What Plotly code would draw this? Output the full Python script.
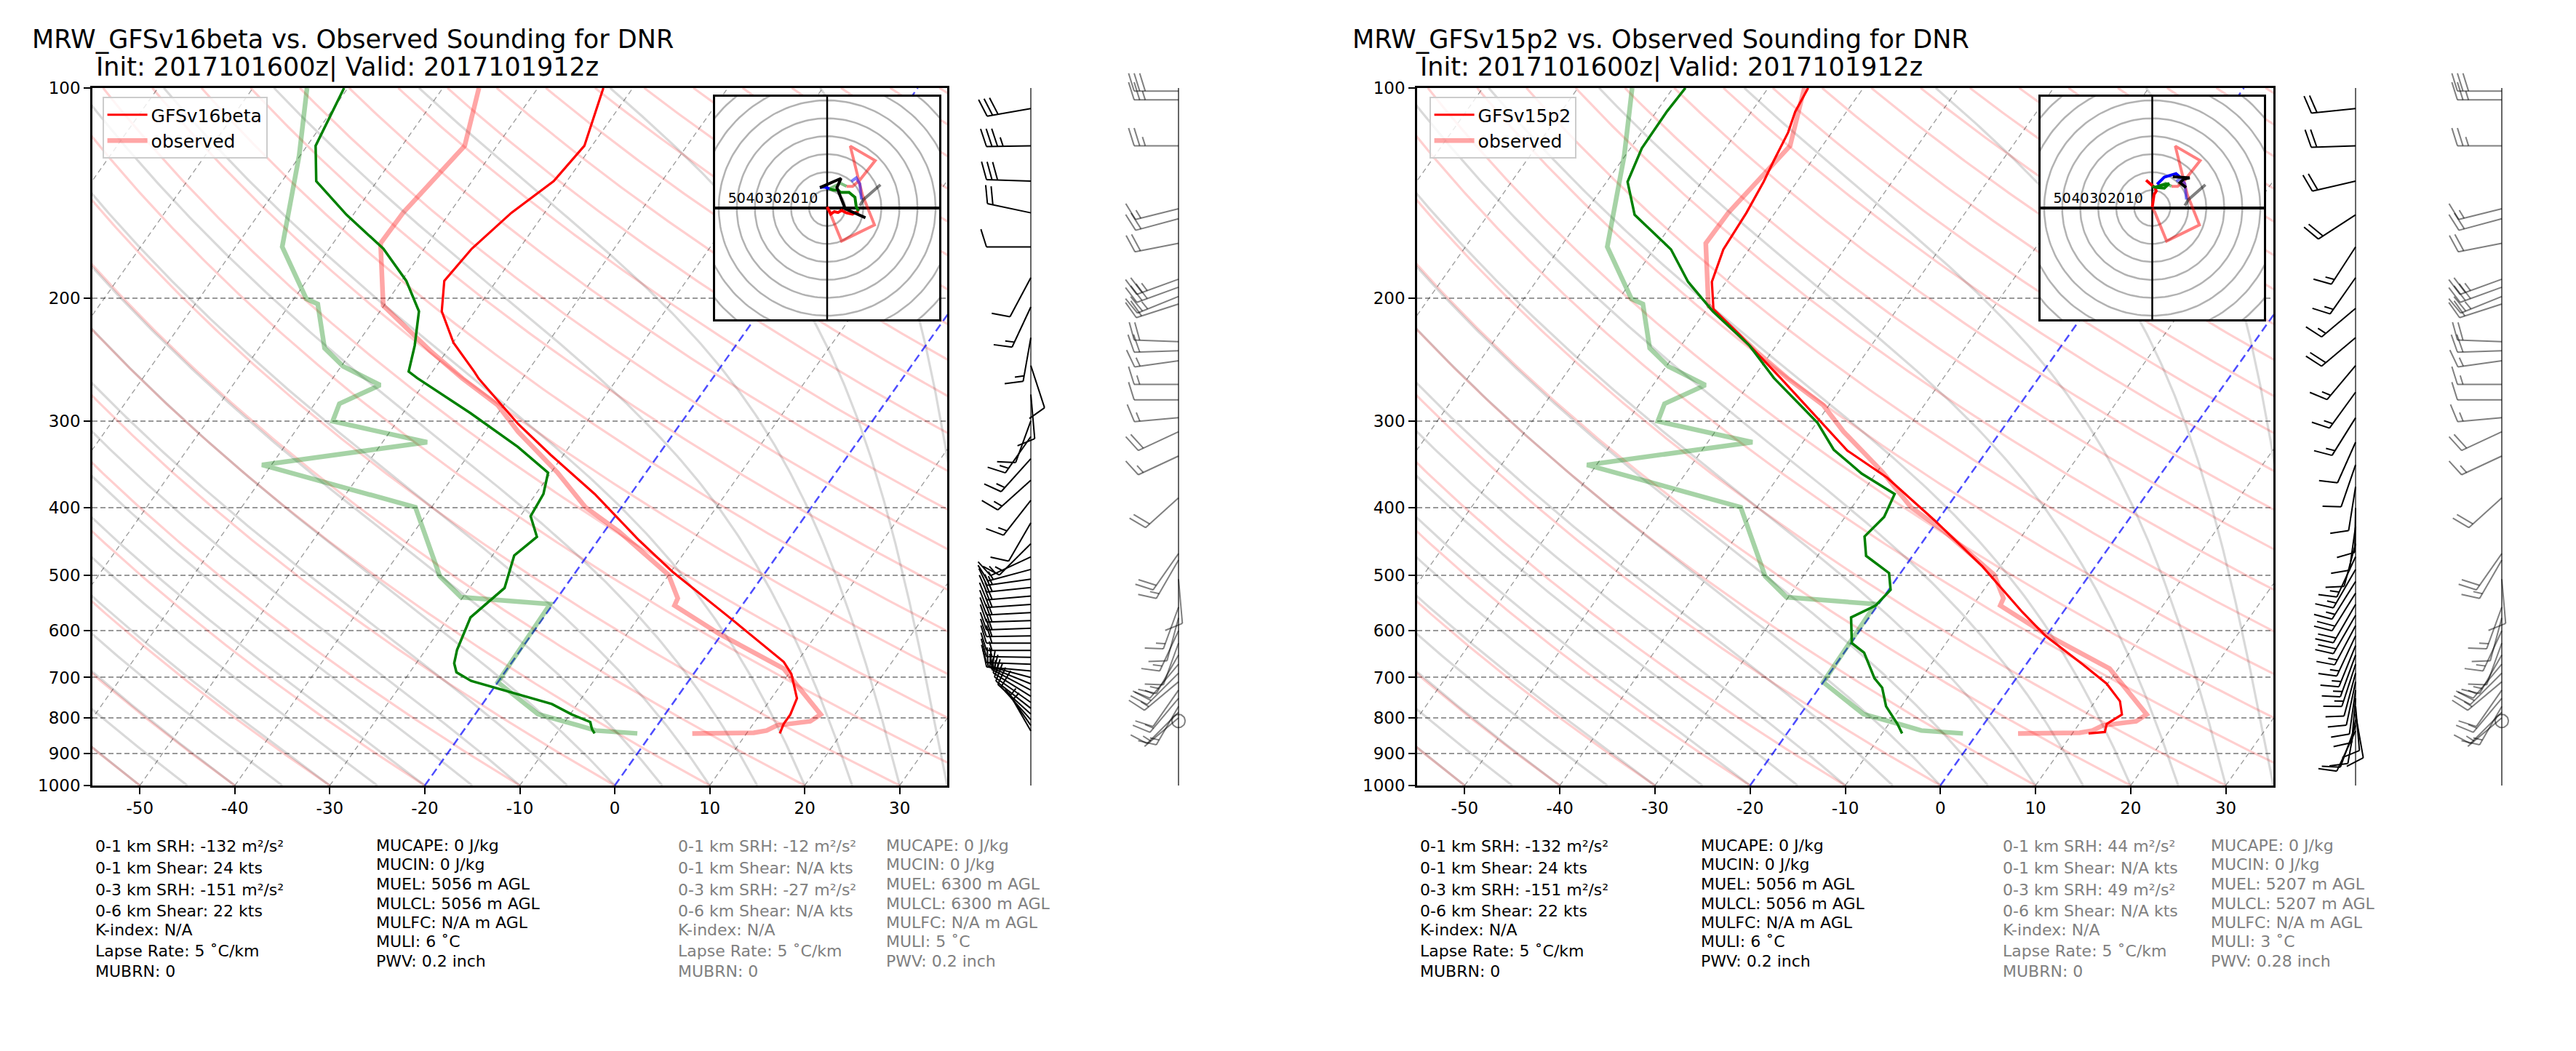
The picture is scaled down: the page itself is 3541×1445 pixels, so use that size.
import numpy as np
import plotly.graph_objects as go

W, H = 3541, 1445
FONT = "DejaVu Sans"

# ============================ values ============================
MODELS = ["GFSv16beta", "GFSv15p2"]
STATION = "DNR"
INIT_VALID = "Init: 2017101600z| Valid: 2017101912z"

X_TICKS = [-50, -40, -30, -20, -10, 0, 10, 20, 30]
P_TICKS = [100, 200, 300, 400, 500, 600, 700, 800, 900, 1000]

# observed sounding (same in both panels)
OBS_T_P = [842.5, 840, 834, 820, 809, 791, 680, 606, 552, 539, 499, 432, 399, 356, 311, 285,
           261, 238, 205, 167, 151, 134, 121, 100]
OBS_T = [4.3, 10.7, 11.9, 12.6, 15.8, 16.4, 9.1, -0.3, -7.1, -7.3, -10.0, -18.5, -23.8, -29.3,
         -36.5, -40.6, -46.3, -51.8, -60.1, -65.0, -64.9, -64.0, -63.4, -66.2]
OBS_TD_P = [842, 834, 820, 790, 711, 549.5, 537, 501, 399, 347, 322, 300.5, 283.6, 266.6, 250.6,
            236, 204, 200.5, 168.9, 125, 100]
OBS_TD = [-1.5, -6.1, -8.3, -13.4, -20.0, -20.3, -30.2, -34.0, -41.7, -61.0, -45.3, -56.8, -57.4,
          -54.5, -59.8, -63.1, -67.1, -68.7, -75.1, -80.1, -84.3]

# GFSv16beta sounding
V16_T_P = [842, 816, 791, 750, 692, 665, 580, 494, 445, 382, 336, 303, 261, 255, 232, 209, 189,
           170, 151, 136, 121, 108, 100]
V16_T = [13.5, 13.2, 13.2, 12.7, 10.3, 8.6, 0.2, -9.8, -15.7, -23.8, -31.3, -37.1, -44.6, -45.6,
         -49.9, -53.5, -55.5, -55.0, -53.5, -51.4, -50.8, -52.2, -53.1]
V16_TD_P = [842, 830, 811, 791, 764, 736, 708, 688, 668, 639, 574, 521, 468, 440, 411, 382, 356,
            327, 292.5, 260.6, 255, 234, 209, 189, 170, 152, 136, 121, 100]
V16_TD = [-6.0, -6.6, -7.3, -9.8, -12.7, -17.8, -22.9, -25.1, -26.0, -26.7, -27.7, -26.3, -27.7,
          -26.7, -28.9, -29.2, -30.3, -35.4, -42.9, -51.1, -52.5, -53.8, -55.9, -59.5, -64.3,
          -70.7, -76.4, -79.1, -80.4]

# GFSv15p2 sounding
V15_T_P = [842, 838, 816, 791, 757, 714.5, 671, 611, 564, 485, 417, 362, 331, 300.5, 260.6, 226,
           207.5, 189.6, 170.4, 151, 136.3, 127.2, 115.8, 108.1, 100]
V15_T = [11.7, 13.3, 12.9, 13.8, 12.6, 9.9, 6.0, 0.0, -4.3, -11.9, -20.3, -28.5, -34.7, -39.7,
         -47.1, -54.6, -59.3, -61.5, -62.7, -63.0, -63.5, -64.0, -64.6, -65.4, -65.8]
V15_TD_P = [842, 816, 770, 724, 702, 645, 625, 574, 552, 524, 496, 468.5, 439.5, 412, 382, 357,
            330, 302, 260.6, 234, 209, 189.6, 170.4, 152, 136.3, 122, 108, 100]
V15_TD = [-7.9, -9.1, -11.6, -13.4, -14.9, -17.9, -19.9, -21.9, -20.2, -19.8, -21.2, -24.9, -26.5,
          -25.9, -26.5, -31.5, -36.2, -39.9, -47.8, -52.8, -59.2, -64.0, -68.2, -74.6, -77.8,
          -78.8, -78.9, -78.7]

# winds (pressure hPa, direction deg, speed kt)
V16_W_P = [107, 121, 136, 151, 169, 187, 206, 228, 250, 275, 300, 316, 340, 365, 390, 420, 450,
           470, 490, 506, 520, 535, 550, 565, 580, 595, 610, 625, 640, 655, 670, 685, 700, 715,
           730, 745, 760, 775, 790, 805, 820, 835]
V16_W_D = [260, 269, 272, 282, 270, 208, 205, 190, 162, 175, 200, 215, 222, 228, 218, 210, 225,
           245, 255, 262, 264, 265, 266, 267, 268, 268, 269, 270, 270, 271, 272, 275, 285, 292,
           298, 302, 305, 308, 312, 318, 325, 330]
V16_W_S = [30, 35, 30, 20, 10, 10, 15, 15, 10, 10, 10, 15, 15, 15, 15, 10, 15, 15, 15, 15, 20, 20,
           20, 20, 20, 20, 20, 20, 15, 15, 15, 15, 15, 15, 15, 10, 10, 10, 10, 10, 5, 5]

V15_W_P = [107, 121, 136, 152, 169, 187, 207, 228, 250, 273, 297, 322, 347, 373, 400, 425, 450,
           470, 490, 510, 530, 550, 570, 590, 610, 630, 650, 670, 690, 710, 730, 750, 770, 790,
           805, 820, 835]
V15_W_D = [264, 268, 257, 237, 213, 215, 230, 230, 220, 216, 212, 204, 199, 189, 181, 188, 195,
           205, 210, 212, 212, 210, 210, 208, 205, 202, 200, 198, 195, 192, 188, 185, 175, 170,
           190, 200, 205]
V15_W_S = [20, 20, 20, 20, 15, 15, 15, 20, 15, 15, 15, 10, 10, 10, 10, 10, 10, 15, 15, 15, 20, 20,
           20, 15, 15, 15, 15, 15, 10, 10, 10, 10, 10, 10, 10, 10, 10]

OBS_W_P = [101, 104, 121, 149, 154, 167, 188, 193, 199, 204, 231, 238, 246, 266, 280, 297, 311,
           337, 387, 465, 475, 506, 555, 575, 600, 625, 650, 670, 690, 710, 730, 750, 770, 785,
           800, 808]
OBS_W_D = [270, 270, 270, 256, 255, 259, 250, 250, 248, 252, 272, 268, 262, 270, 270, 265, 245,
           245, 228, 215, 210, 175, 200, 195, 205, 200, 210, 220, 225, 230, 215, 220, 210, 225,
           230, 0]
OBS_W_S = [30, 25, 25, 15, 20, 20, 25, 30, 25, 20, 20, 20, 15, 15, 10, 15, 20, 15, 20, 20, 15, 10,
           15, 10, 15, 10, 15, 15, 20, 15, 10, 15, 15, 10, 5, 0]

# hodograph traces (u, v in kt)
HODO_V16 = {
    "red":   ([0, 2.0, 4.0, 6.0, 8.0, 10.7, 14.0, 17.4], [0.7, -3.4, -2.0, -2.5, -1.3, -2.7, -3.4, -1.7]),
    "green": ([17.4, 16.1, 15.4, 12.1, 7.4, 6.0, 3.4, 1.3], [-1.7, 0.7, 6.0, 8.7, 8.7, 10.0, 10.0, 10.7]),
    "blue":  ([1.3, -1.3, -4.0], [10.7, 11.7, 11.4]),
    "black": ([-4.0, 7.7, 5.4, 9.4, 10.0, 21.2], [11.4, 16.5, 11.4, 1.3, -0.4, -5.4]),
}
HODO_V15 = {
    "red":   ([0, 0.6, 1.0, 2.2, 1.5, -1.0, -3.4], [0.4, 4.4, 7.5, 9.4, 11.4, 13.4, 15.5]),
    "green": ([1.5, 4.0, 9.4, 6.7, 2.7, 0.0], [11.4, 12.5, 13.6, 11.1, 11.4, 12.0]),
    "blue":  ([2.7, 6.7, 13.2, 15.4], [13.2, 17.2, 19.2, 17.2]),
    "black": ([11.4, 20.8, 17.4, 15.4, 18.8], [17.4, 16.8, 16.1, 14.1, 11.4]),
}
HODO_OBS = {
    "red":   ([0, 1.3, 8.0, 26.2, 19.5, 12.8, 26.6, 18.0, 14.1, 10.7],
              [0, -2.0, -18.4, -9.4, 7.4, 34.5, 26.4, 15.5, 12.1, 12.1]),
    "green": ([10.7, 7.4, 4.0, 1.3], [12.1, 13.8, 12.1, 10.7]),
    "blue":  ([13.4, 16.1, 18.1, 19.0], [14.8, 16.8, 13.4, 4.7]),
    "gray":  ([18.1, 20.1, 29.5], [1.3, 4.7, 13.0]),
}
HODO_RINGS = [10, 20, 30, 40, 50, 60, 70, 80, 90]
HODO_LABELS = [50, 40, 30, 20, 10]

# statistics text
SRH = "m²/s²"
MODEL_COL1 = [f"0-1 km SRH: -132 {SRH}", "0-1 km Shear: 24 kts", f"0-3 km SRH: -151 {SRH}",
              "0-6 km Shear: 22 kts", "K-index: N/A", "Lapse Rate: 5 ˚C/km", "MUBRN: 0"]
MODEL_COL2 = ["MUCAPE: 0 J/kg", "MUCIN: 0 J/kg", "MUEL: 5056 m AGL", "MULCL: 5056 m AGL",
              "MULFC: N/A m AGL", "MULI: 6 ˚C", "PWV: 0.2 inch"]
OBS_SRH1 = [-12, 44]
OBS_SRH3 = [-27, 49]
OBS_MUEL = [6300, 5207]
OBS_MULI = [5, 3]
OBS_PWV = ["0.2", "0.28"]

# ============================ layout geometry (pixels) ============================
AX_L = [127, 1948]
AX_R = [1302, 3125]
TOP, BOT = 121, 1080
HODO_X = [(983, 1291), (2805, 3112)]
HODO_Y = (133, 439)
HODO_LIM = 62
BARB_X = [(1417, 1620), (3238, 3439)]
TITLE1_X = [41.6, 1857.3]
TITLE2_X = [129.5, 1949.8]
LEGEND_X = [140.6, 1964.6]
COL_DX = [2, 388, 803, 1089]
ROW_Y_A = [1163, 1193, 1223, 1252, 1278, 1307, 1335]
ROW_Y_B = [1162, 1188, 1215, 1242, 1268, 1294, 1321]

XMIN, XMAX = -55, 35
SKEW = 51.9
KAPPA = 0.2857

# ============================ helpers ============================
def skx(t, p):
    return np.asarray(t, float) + SKEW * np.log10(1000.0 / np.asarray(p, float))


def joined(lines):
    xs, ys = [], []
    for x, y in lines:
        xs += list(x) + [None]
        ys += list(y) + [None]
    return xs, ys


Rd, Cp, Lv, EPS = 287.04749, 1004.6662, 2.50084e6, 0.621957


def dTdp(T, p):
    es = 6.112 * np.exp(17.67 * (T - 273.15) / (T - 29.65))
    rs = EPS * es / (p - es)
    return (Rd * T + Lv * rs) / (Cp + Lv * Lv * rs * EPS / (Rd * T * T)) / p


def moist_adiabats(t0, pgrid):
    T = np.asarray(t0, float) + 273.15
    out = [T.copy()]
    for i in range(len(pgrid) - 1):
        p0 = pgrid[i]
        h = pgrid[i + 1] - p0
        k1 = dTdp(T, p0)
        k2 = dTdp(T + h / 2 * k1, p0 + h / 2)
        k3 = dTdp(T + h / 2 * k2, p0 + h / 2)
        k4 = dTdp(T + h * k3, p0 + h)
        T = T + h / 6 * (k1 + 2 * k2 + 2 * k3 + k4)
        out.append(T.copy())
    return np.array(out).T - 273.15


def ypix(p):
    return TOP + np.log10(np.asarray(p, float) / 100.0) * (BOT - TOP)


def barb_paths(x0, plist, dirs, spds, L=61.0):
    xs, ys = [], []
    spacing, fh, fw = 0.125 * L, 0.4 * L, 0.25 * L
    for p, d, s in zip(plist, dirs, spds):
        y0 = float(ypix(p))
        if s < 2.5:
            th = np.linspace(0, 2 * np.pi, 40)
            xs += list(x0 + 0.15 * L * np.cos(th)) + [None]
            ys += list(y0 + 0.15 * L * np.sin(th)) + [None]
            continue
        r = np.deg2rad(d)
        sx, sy = np.sin(r), -np.cos(r)
        px, py = np.cos(r), np.sin(r)
        xs += [x0, x0 + L * sx, None]
        ys += [y0, y0 + L * sy, None]
        v = int(5 * round(s / 5.0))
        nf = v // 50
        v -= 50 * nf
        nb = v // 10
        v -= 10 * nb
        nh = v // 5
        off = L
        for _ in range(nf):
            ax_, ay_ = x0 + off * sx, y0 + off * sy
            bx_, by_ = x0 + (off - fw / 2) * sx + fh * px, y0 + (off - fw / 2) * sy + fh * py
            cx_, cy_ = x0 + (off - fw) * sx, y0 + (off - fw) * sy
            xs += [ax_, bx_, cx_, ax_, None]
            ys += [ay_, by_, cy_, ay_, None]
            off -= fw + spacing
        for _ in range(nb):
            xs += [x0 + off * sx, x0 + (off + fw / 2) * sx + fh * px, None]
            ys += [y0 + off * sy, y0 + (off + fw / 2) * sy + fh * py, None]
            off -= spacing
        if nh:
            if nf == 0 and nb == 0:
                off -= 1.5 * spacing
            xs += [x0 + off * sx, x0 + (off + fw / 4) * sx + fh / 2 * px, None]
            ys += [y0 + off * sy, y0 + (off + fw / 4) * sy + fh / 2 * py, None]
    return xs, ys


# ============================ background line families ============================
plog = np.logspace(3, 2, 200)
DRY_T0 = np.arange(-50, 251, 10)
MOIST_T0 = np.arange(-50, 46, 5)
dry_lines = [(skx((t0 + 273.15) * (plog / 1000.0) ** KAPPA - 273.15, plog), plog) for t0 in DRY_T0]
moist_T = moist_adiabats(MOIST_T0, plog)
moist_lines = [(skx(row, plog), plog) for row in moist_T]
iso_gray = [(skx([t, t], [1000, 100]), [1000, 100]) for t in range(-100, 41, 10) if t not in (-20, 0)]
iso_blue = [(skx([t, t], [1000, 100]), [1000, 100]) for t in (-20, 0)]

fig = go.Figure()

sound = [
    (V16_T_P, V16_T, V16_TD_P, V16_TD, HODO_V16, (V16_W_P, V16_W_D, V16_W_S)),
    (V15_T_P, V15_T, V15_TD_P, V15_TD, HODO_V15, (V15_W_P, V15_W_D, V15_W_S)),
]

for i in range(2):
    xa, ya = ("x", "y") if i == 0 else ("x2", "y2")
    for lines, col, w, dash in [
        (dry_lines, "rgba(255,0,0,0.19)", 3.2, "solid"),
        (moist_lines, "rgba(0,0,0,0.15)", 3.2, "solid"),
        (iso_gray, "rgba(0,0,0,0.4)", 1.3, "7px,5px"),
        (iso_blue, "rgba(0,0,255,0.7)", 2.5, "11px,6px"),
    ]:
        xs, ys = joined(lines)
        fig.add_trace(go.Scatter(x=xs, y=ys, mode="lines", xaxis=xa, yaxis=ya, showlegend=False,
                                 line=dict(color=col, width=w, dash=dash), hoverinfo="skip"))
    tp, tt, dp, dd, _, _ = sound[i]
    leg = "legend" if i == 0 else "legend2"
    fig.add_trace(go.Scatter(x=skx(OBS_T, OBS_T_P), y=OBS_T_P, mode="lines", xaxis=xa, yaxis=ya,
                             name="observed", legend=leg, legendrank=2,
                             line=dict(color="rgba(255,0,0,0.35)", width=6.5)))
    fig.add_trace(go.Scatter(x=skx(OBS_TD, OBS_TD_P), y=OBS_TD_P, mode="lines", xaxis=xa, yaxis=ya,
                             showlegend=False, line=dict(color="rgba(0,128,0,0.35)", width=6.5)))
    fig.add_trace(go.Scatter(x=skx(tt, tp), y=tp, mode="lines", xaxis=xa, yaxis=ya,
                             name=MODELS[i], legend=leg, legendrank=1,
                             line=dict(color="red", width=3.2)))
    fig.add_trace(go.Scatter(x=skx(dd, dp), y=dp, mode="lines", xaxis=xa, yaxis=ya,
                             showlegend=False, line=dict(color="green", width=3.5)))

# hodographs
th = np.linspace(0, 2 * np.pi, 181)
obs_cols = {"red": "rgba(255,0,0,0.5)", "green": "rgba(0,128,0,0.5)",
            "blue": "rgba(0,0,255,0.5)", "gray": "rgba(0,0,0,0.5)"}
mod_cols = {"red": "red", "green": "green", "blue": "blue", "black": "black"}
for i in range(2):
    xa, ya = ("x3", "y3") if i == 0 else ("x4", "y4")
    fig.add_trace(go.Scatter(x=[-HODO_LIM, HODO_LIM, HODO_LIM, -HODO_LIM, -HODO_LIM],
                             y=[-HODO_LIM, -HODO_LIM, HODO_LIM, HODO_LIM, -HODO_LIM],
                             fill="toself", fillcolor="white", mode="none", xaxis=xa, yaxis=ya,
                             showlegend=False, hoverinfo="skip"))
    rx, ry = joined([(r * np.cos(th), r * np.sin(th)) for r in HODO_RINGS])
    fig.add_trace(go.Scatter(x=rx, y=ry, mode="lines", xaxis=xa, yaxis=ya, showlegend=False,
                             line=dict(color="rgba(0,0,0,0.3)", width=2.5), hoverinfo="skip"))
    fig.add_trace(go.Scatter(x=[-HODO_LIM, HODO_LIM], y=[0, 0], mode="lines", xaxis=xa, yaxis=ya,
                             showlegend=False, line=dict(color="black", width=4)))
    fig.add_trace(go.Scatter(x=[0, 0], y=[-HODO_LIM, HODO_LIM], mode="lines", xaxis=xa, yaxis=ya,
                             showlegend=False, line=dict(color="black", width=2.5)))
    fig.add_trace(go.Scatter(x=[-v for v in HODO_LABELS], y=[4.6] * len(HODO_LABELS),
                             text=[str(v) for v in HODO_LABELS], mode="text", xaxis=xa, yaxis=ya,
                             showlegend=False, textfont=dict(family=FONT, size=19, color="black")))
    for key, (u, v) in HODO_OBS.items():
        fig.add_trace(go.Scatter(x=u, y=v, mode="lines", xaxis=xa, yaxis=ya, showlegend=False,
                                 line=dict(color=obs_cols[key], width=4)))
    for key, (u, v) in sound[i][4].items():
        fig.add_trace(go.Scatter(x=u, y=v, mode="lines", xaxis=xa, yaxis=ya, showlegend=False,
                                 line=dict(color=mod_cols[key], width=4)))

# wind barbs (pixel overlay)
for i in range(2):
    x_mod, x_obs = BARB_X[i]
    for x0 in (x_mod, x_obs):
        fig.add_trace(go.Scatter(x=[x0, x0], y=[TOP, BOT], mode="lines", xaxis="x5", yaxis="y5",
                                 showlegend=False, line=dict(color="black", width=1.2)))
    wp, wd, ws = sound[i][5]
    bx, by = barb_paths(x_mod, wp, wd, ws)
    fig.add_trace(go.Scatter(x=bx, y=by, mode="lines", xaxis="x5", yaxis="y5", showlegend=False,
                             line=dict(color="black", width=2)))
    bx, by = barb_paths(x_obs, OBS_W_P, OBS_W_D, OBS_W_S)
    fig.add_trace(go.Scatter(x=bx, y=by, mode="lines", xaxis="x5", yaxis="y5", showlegend=False,
                             line=dict(color="rgba(0,0,0,0.5)", width=2)))

# ============================ axes ============================
def px2x(px):
    return px / W


def py2y(py):
    return 1 - py / H


tickfont = dict(family=FONT, size=23, color="black")
lay = {}
for i in range(2):
    sx = "" if i == 0 else "2"
    lay["xaxis" + sx] = dict(domain=[px2x(AX_L[i]), px2x(AX_R[i])], anchor="y" + sx,
                             range=[XMIN, XMAX], tickvals=X_TICKS, automargin=False,
                             ticktext=[str(v) for v in X_TICKS], ticks="outside", ticklen=9,
                             tickwidth=2, tickcolor="black", showline=True, linecolor="black",
                             linewidth=2.5, mirror=True, showgrid=False, zeroline=False,
                             tickfont=tickfont)
    lay["yaxis" + sx] = dict(domain=[py2y(BOT), py2y(TOP)], anchor="x" + sx, type="log",
                             range=[3, 2], tickvals=P_TICKS, ticktext=[str(v) for v in P_TICKS],
                             ticks="outside", ticklen=9, tickwidth=2, tickcolor="black",
                             showline=True, linecolor="black", linewidth=2.5, mirror=True,
                             showgrid=True, gridcolor="rgba(0,0,0,0.4)", gridwidth=1.5,
                             griddash="7px,4px", zeroline=False, tickfont=tickfont,
                             automargin=False)
    hx = str(3 + i)
    lay["xaxis" + hx] = dict(domain=[px2x(HODO_X[i][0]), px2x(HODO_X[i][1])], anchor="y" + hx,
                             range=[-HODO_LIM, HODO_LIM], showticklabels=False, ticks="",
                             showgrid=False, zeroline=False, showline=True, linecolor="black",
                             linewidth=2.5, mirror=True, automargin=False)
    lay["yaxis" + hx] = dict(domain=[py2y(HODO_Y[1]), py2y(HODO_Y[0])], anchor="x" + hx,
                             range=[-HODO_LIM, HODO_LIM], showticklabels=False, ticks="",
                             showgrid=False, zeroline=False, showline=True, linecolor="black",
                             linewidth=2.5, mirror=True, automargin=False)
lay["xaxis5"] = dict(domain=[0, 1], anchor="y5", range=[0, W], visible=False, automargin=False)
lay["yaxis5"] = dict(domain=[0, 1], anchor="x5", range=[H, 0], visible=False, automargin=False)

legend_common = dict(xanchor="left", yanchor="top", bgcolor="rgba(255,255,255,0.8)",
                     bordercolor="#cccccc", borderwidth=2, itemwidth=55,
                     font=dict(family=FONT, size=25, color="black"), tracegroupgap=0)
lay["legend"] = dict(x=px2x(LEGEND_X[0]), y=py2y(133), **legend_common)
lay["legend2"] = dict(x=px2x(LEGEND_X[1]), y=py2y(133), **legend_common)

# ============================ text ============================
ann = []


def add_text(txt, px, py, size, color="black"):
    ann.append(dict(text=txt, x=px2x(px), y=py2y(py), xref="paper", yref="paper",
                    xanchor="left", yanchor="middle", showarrow=False,
                    font=dict(family=FONT, size=size, color=color)))


for i in range(2):
    add_text(f"MRW_{MODELS[i]} vs. Observed Sounding for {STATION}", TITLE1_X[i], 53.5, 35)
    add_text(INIT_VALID, TITLE2_X[i], 93, 35)
    obs_col1 = [f"0-1 km SRH: {OBS_SRH1[i]} {SRH}", "0-1 km Shear: N/A kts",
                f"0-3 km SRH: {OBS_SRH3[i]} {SRH}", "0-6 km Shear: N/A kts", "K-index: N/A",
                "Lapse Rate: 5 ˚C/km", "MUBRN: 0"]
    obs_col2 = ["MUCAPE: 0 J/kg", "MUCIN: 0 J/kg", f"MUEL: {OBS_MUEL[i]} m AGL",
                f"MULCL: {OBS_MUEL[i]} m AGL", "MULFC: N/A m AGL", f"MULI: {OBS_MULI[i]} ˚C",
                f"PWV: {OBS_PWV[i]} inch"]
    for col, (lines, rows, color) in enumerate([(MODEL_COL1, ROW_Y_A, "black"),
                                                (MODEL_COL2, ROW_Y_B, "black"),
                                                (obs_col1, ROW_Y_A, "gray"),
                                                (obs_col2, ROW_Y_B, "gray")]):
        for txt, ry in zip(lines, rows):
            add_text(txt, AX_L[i] + COL_DX[col], ry, 22, color)

fig.update_layout(width=W, height=H, autosize=False, margin=dict(l=0, r=0, t=0, b=0, pad=0),
                  paper_bgcolor="white", plot_bgcolor="rgba(0,0,0,0)", showlegend=True,
                  annotations=ann, font=dict(family=FONT), **lay)

fig.write_html("out.html")
